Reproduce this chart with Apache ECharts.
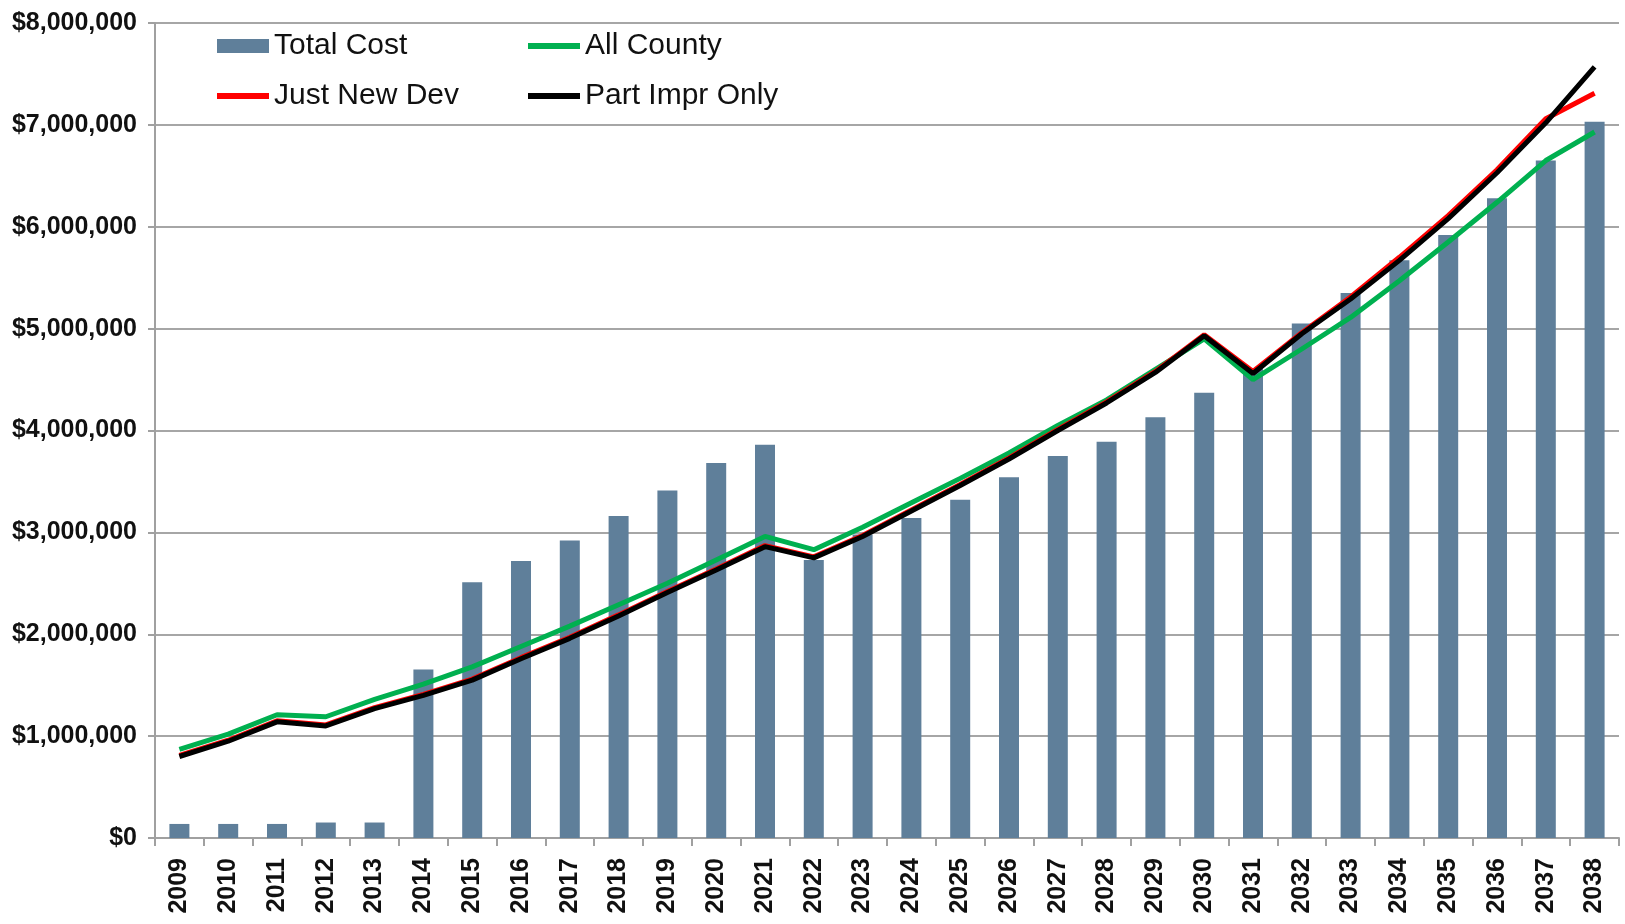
<!DOCTYPE html>
<html>
<head>
<meta charset="utf-8">
<script src="https://cdn.jsdelivr.net/npm/echarts@6/dist/echarts.min.js"></script>
<style>
html,body{margin:0;padding:0;background:#fff;}
#chart{width:1625px;height:924px;}
</style>
</head>
<body>
<div id="chart"></div>
<script>
const years = ['2009','2010','2011','2012','2013','2014','2015','2016','2017','2018','2019','2020','2021','2022','2023','2024','2025','2026','2027','2028','2029','2030','2031','2032','2033','2034','2035','2036','2037','2038'];
const totalCost = [138000,138000,138000,152000,152000,1655000,2510000,2720000,2920000,3160000,3410000,3680000,3860000,2730000,2980000,3140000,3320000,3540000,3750000,3890000,4130000,4370000,4610000,5050000,5350000,5670000,5920000,6280000,6650000,7030000];
const allCounty = [870000,1020000,1210000,1190000,1360000,1510000,1680000,1880000,2080000,2290000,2500000,2730000,2960000,2830000,3050000,3290000,3530000,3780000,4050000,4300000,4600000,4900000,4500000,4800000,5110000,5470000,5850000,6240000,6650000,6930000];
const justNewDev = [810000,960000,1150000,1110000,1280000,1410000,1560000,1770000,1970000,2190000,2420000,2640000,2870000,2760000,2970000,3220000,3470000,3730000,4010000,4280000,4580000,4940000,4580000,4960000,5310000,5700000,6110000,6560000,7060000,7310000];
const partImprOnly = [800000,950000,1140000,1100000,1270000,1400000,1550000,1760000,1960000,2180000,2410000,2630000,2860000,2750000,2960000,3210000,3460000,3720000,4000000,4270000,4570000,4930000,4560000,4950000,5290000,5670000,6080000,6530000,7020000,7570000];
const yTicks = {min: 0, max: 8000000, interval: 1000000};

const font = "'Liberation Sans',Arial,sans-serif";
const chart = echarts.init(document.getElementById('chart'));
const legendText = {fontFamily: font, fontSize: 30, color: '#111'};
function leg(name, left, top, color, isBar) {
  return {
    data: [{name: name, icon: 'rect', itemStyle: {color: color}}],
    left: left, top: top, itemWidth: 52, itemHeight: isBar ? 14 : 6,
    textStyle: legendText, selectedMode: false, padding: 0
  };
}
chart.setOption({
  animation: false,
  backgroundColor: '#fff',
  grid: {left: 155, right: 6, top: 23, bottom: 86, containLabel: false, outerBoundsMode: 'none'},
  legend: [
    leg('Total Cost', 217, 31, '#5f7f9a', true),
    leg('All County', 528, 31, '#00b050'),
    leg('Just New Dev', 217, 81, '#ff0000'),
    leg('Part Impr Only', 528, 81, '#000000')
  ],
  xAxis: {
    type: 'category', data: years, boundaryGap: true,
    axisLine: {lineStyle: {color: '#a0a0a0', width: 2}},
    axisTick: {show: true, length: 8, lineStyle: {color: '#a0a0a0', width: 2}},
    axisLabel: {rotate: 90, margin: 20, fontFamily: font, fontWeight: 'bold', fontSize: 25, color: '#111', interval: 0}
  },
  yAxis: {
    type: 'value', min: yTicks.min, max: yTicks.max, interval: yTicks.interval,
    axisLine: {show: true, lineStyle: {color: '#a0a0a0', width: 2}},
    axisTick: {show: true, length: 7, lineStyle: {color: '#a0a0a0', width: 2}},
    splitLine: {lineStyle: {color: '#a6a6a6', width: 2}},
    axisLabel: {margin: 18, fontFamily: font, fontWeight: 'bold', fontSize: 25, color: '#111',
      formatter: v => '$' + v.toLocaleString('en-US')}
  },
  series: [
    {name: 'Total Cost', type: 'bar', data: totalCost, barWidth: 20, itemStyle: {color: '#5f7f9a'}, z: 2},
    {name: 'All County', type: 'line', data: allCounty, symbol: 'none', lineStyle: {color: '#00b050', width: 5}, itemStyle: {color: '#00b050'}, z: 3},
    {name: 'Just New Dev', type: 'line', data: justNewDev, symbol: 'none', lineStyle: {color: '#ff0000', width: 5}, itemStyle: {color: '#ff0000'}, z: 4},
    {name: 'Part Impr Only', type: 'line', data: partImprOnly, symbol: 'none', lineStyle: {color: '#000000', width: 5}, itemStyle: {color: '#000000'}, z: 5}
  ]
});
</script>
</body>
</html>
